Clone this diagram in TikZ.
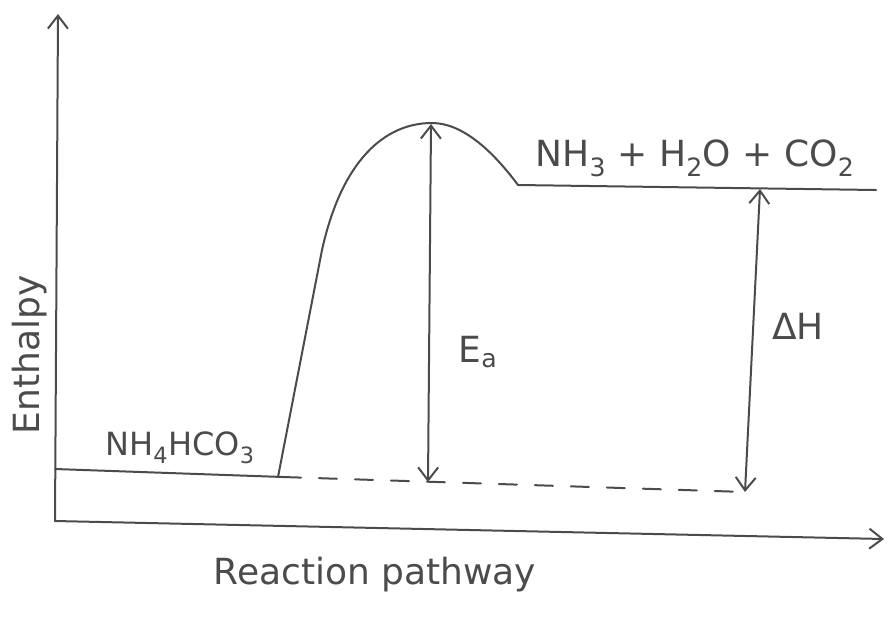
\documentclass[tikz,border=0pt]{standalone}
\usepackage{fontspec}
\setmainfont{DejaVu Sans}
\usetikzlibrary{arrows.meta}
\definecolor{pencil}{RGB}{75,75,75}
\tikzset{
  pen/.style={draw=pencil, line width=2pt, line cap=round, line join=round},
  barb/.tip={Straight Barb[length=13pt,width=20pt,line width=2pt]},
  tip/.style={-barb},
  dbl/.style={barb-barb},
  lbl/.style={text=pencil, font=\fontsize{36}{40}\selectfont, inner sep=0pt}
}
\begin{document}
\begin{tikzpicture}[x=1pt,y=-1pt]
\useasboundingbox (0,0) rectangle (889,633);
% axes
\coordinate (O) at (55,521);
\coordinate (ytop) at (58,14);
\coordinate (xend) at (884,539);
\draw[pen,tip] (O) -- (ytop);
\draw[pen,tip] (O) -- (xend);
% levels
\coordinate (r0) at (55,469);
\coordinate (r1) at (283,477);
\coordinate (d1) at (745,492);
\coordinate (peak) at (432,123);
\coordinate (p0) at (518,185);
\coordinate (p1) at (876,190);
\draw[pen] (r0) -- (r1);
\draw[pen,dash pattern=on 18pt off 18pt] (r1) -- (d1);
\draw[pen] (278,477) -- (322,250) .. controls (342,160) and (385,123) .. (peak)
  .. controls (462,123) and (492,150) .. (p0) -- (p1);
% Ea arrow
\coordinate (eaT) at (431,124);
\coordinate (eaB) at (428,482);
\draw[pen,dbl] (eaT) -- (eaB);
% dH arrow
\coordinate (dhT) at (760,189);
\coordinate (dhB) at (745,492);
\draw[pen,dbl] (dhT) -- (dhB);
% labels
\node[lbl,font=\fontsize{32}{36}\selectfont] (react) at (180,448) {NH\textsubscript{4}HCO\textsubscript{3}};
\node[lbl] (prod) at (695,158) {NH\textsubscript{3} + H\textsubscript{2}O + CO\textsubscript{2}};
\node[lbl] (ea) at (478,352) {E\textsubscript{a}};
\node[lbl] (dh) at (798,326) {ΔH};
\node[lbl,rotate=90] (yl) at (30,355) {Enthalpy};
\node[lbl] (xl) at (375,575) {Reaction pathway};
\end{tikzpicture}
\end{document}
